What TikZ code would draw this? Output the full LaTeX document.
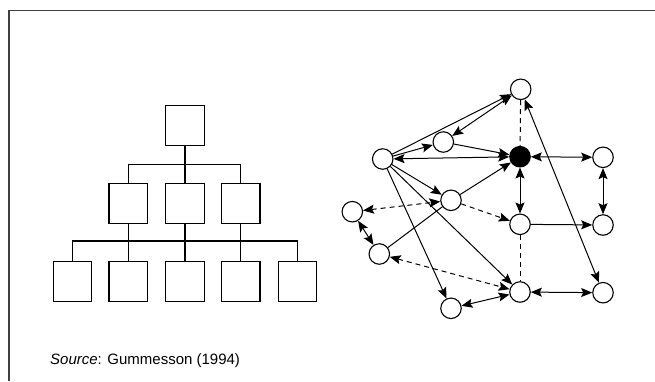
\documentclass[tikz,border=0pt]{standalone}
\usepackage{fontspec}
\setmainfont{Liberation Sans}
\usetikzlibrary{arrows.meta}
\tikzset{
  box/.style={draw, line width=1.4pt, minimum width=38.5pt, minimum height=40pt, inner sep=0pt},
  tline/.style={line width=1.2pt},
  nd/.style={draw, circle, line width=1.1pt, fill=white, minimum size=20.5pt, inner sep=0pt},
  ndfill/.style={nd, fill=black},
  edge/.style={line width=1pt},
  tip/.tip={Stealth[length=11pt,width=9pt,inset=2pt]},
  one/.style={edge, -tip},
  two/.style={edge, tip-tip},
  dsh/.style={edge, dash pattern=on 5pt off 4pt},
  frame/.style={line width=1.4pt, draw=black!75},
}
\begin{document}
\begin{tikzpicture}[x=1pt,y=-1pt]
\useasboundingbox (0,0) rectangle (655,381);
\draw[frame] (9,381) -- (9,10.5) -- (655,10.5);

% hierarchy
\node[box] (t0) at (185,125.3) {};
\node[box] (m1) at (128.4,203.3) {};
\node[box] (m2) at (185,203.3) {};
\node[box] (m3) at (240.8,203.3) {};
\node[box] (b1) at (72.5,281.7) {};
\node[box] (b2) at (128.4,281.7) {};
\node[box] (b3) at (185,281.7) {};
\node[box] (b4) at (240.8,281.7) {};
\node[box] (b5) at (297.5,281.7) {};
\draw[tline] (t0.south) -- (m2.north);
\draw[tline] (m1.north) -- ++(0,-18.3) -| (m3.north);
\draw[tline] (m1.south) -- (b2.north);
\draw[tline] (m2.south) -- (b3.north);
\draw[tline] (m3.south) -- (b4.north);
\draw[tline] (b1.north) -- ++(0,-20) -| (b5.north);

% network nodes
\node[nd] (A) at (520.7,89.3) {};
\node[nd] (B) at (443.3,142) {};
\node[nd] (C) at (382.7,159) {};
\node[ndfill] (D) at (520,156.7) {};
\node[nd] (E) at (603,157.3) {};
\node[nd] (F) at (451,200.3) {};
\node[nd] (G) at (352.3,211.7) {};
\node[nd] (H) at (520,224.3) {};
\node[nd] (I) at (603,225) {};
\node[nd] (J) at (379.3,254) {};
\node[nd] (K) at (520,292) {};
\node[nd] (L) at (603,292.7) {};
\node[nd] (M) at (451,308.3) {};

% network connectors
\draw[one] (C) -- (A);
\draw[two] (B) -- (A);
\draw[one] (C) -- (B);
\draw[one] (B) -- (D);
\draw[two] (C) -- (D);
\draw[one] (C) -- (F);
\draw[one] (C) -- (K);
\draw[one] (C) -- (M);
\draw[one] (F) -- (D);
\draw[edge] (J) -- (F);
\draw[dsh, tip-tip] (G) -- (F);
\draw[dsh, -tip] (F) -- (H);
\draw[dsh, tip-tip] (J) -- (K);
\draw[two] (G) -- (J);
\draw[two] (M) -- (K);
\draw[two] (K) -- (L);
\draw[two] (D) -- (E);
\draw[two] (D) -- (H);
\draw[two] (E) -- (I);
\draw[one] (H) -- (I);
\draw[two] (L) -- (A);
\draw[dsh] (A) -- (D);
\draw[dsh] (H) -- (K);

\node[anchor=base west, inner sep=0pt, font=\fontsize{15pt}{18pt}\selectfont] (src) at (50,364.5) {\textit{Source}: Gummesson (1994)};
\end{tikzpicture}
\end{document}
